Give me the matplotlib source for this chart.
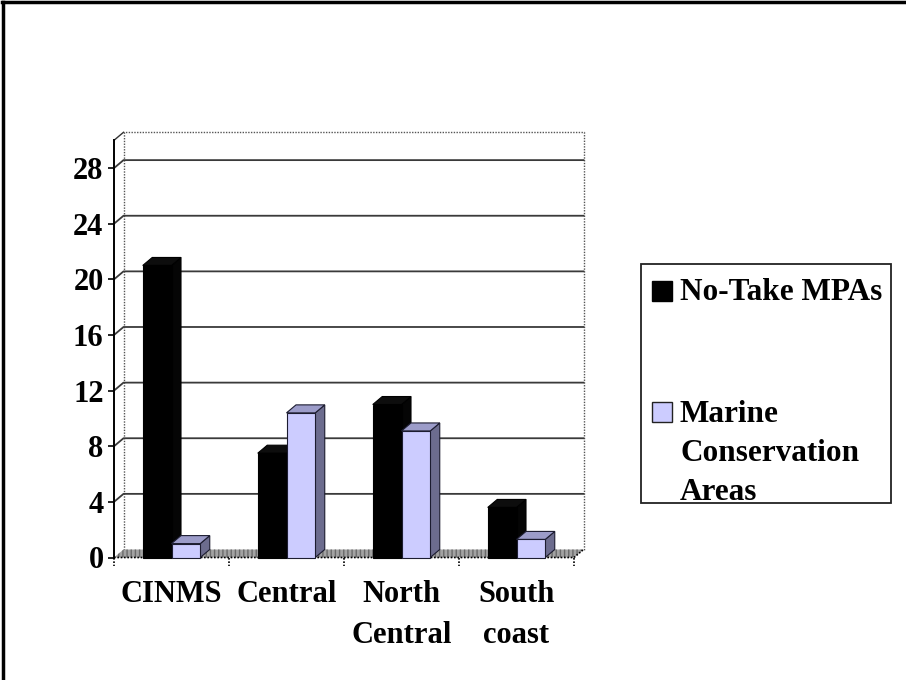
import matplotlib
matplotlib.use("Agg")
import matplotlib.pyplot as plt
from matplotlib.patches import Rectangle, Polygon

# ---- data ----
categories = ["CINMS", "Central", "North\nCentral", "South\ncoast"]
no_take = [21, 7.5, 11, 3.6]
conservation = [1.0, 10.4, 9.1, 1.3]
series_names = ["No-Take MPAs", "Marine\nConservation\nAreas"]
y_ticks = [0, 4, 8, 12, 16, 20, 24, 28]
y_max = 30

W, H = 906, 680
FONT = "Liberation Serif"

fig = plt.figure(figsize=(W / 100, H / 100), dpi=100)
fig.patch.set_facecolor("white")


def fx(px):
    return px / W


def fy(py):
    return 1 - py / H


# plot area (front plane)
ax_left, ax_right, ax_bottom, ax_top = 114, 574, 557.5, 140.3
ax = fig.add_axes([fx(ax_left), fy(ax_bottom), fx(ax_right - ax_left),
                   (ax_bottom - ax_top) / H])
ncat = len(categories)
ax.set_xlim(0, ncat)
ax.set_ylim(0, y_max)
ax.set_facecolor("none")

px_per_x = (ax_right - ax_left) / ncat
px_per_y = (ax_bottom - ax_top) / y_max
DX = 9.5 / px_per_x   # depth offset in x data units
DY = 8.0 / px_per_y   # depth offset in y data units

for s in ["top", "right", "bottom"]:
    ax.spines[s].set_visible(False)
ax.spines["left"].set_color("black")
ax.spines["left"].set_linewidth(1.4)

ax.set_yticks(y_ticks)
ax.set_yticklabels([str(v) for v in y_ticks], fontfamily=FONT,
                   fontweight="bold", fontsize=22)
ax.tick_params(axis="y", direction="out", length=4.5, width=1.2, pad=3,
               colors="black")

centers = [i + 0.5 for i in range(ncat)]
ax.set_xticks(centers)
ax.set_xticklabels(categories, fontfamily=FONT, fontweight="bold",
                   fontsize=22, linespacing=1.56)
ax.tick_params(axis="x", length=0, pad=16)

# back wall border (dotted)
ax.plot([DX, DX, ncat + DX, ncat + DX], [DY, y_max + DY, y_max + DY, DY],
        ls=(0, (1, 1)), color="#555555", lw=1.0, clip_on=False, zorder=1)
# top-left diagonal edge of the side wall
ax.plot([0, DX], [y_max, y_max + DY], color="#333333", lw=1.0,
        clip_on=False, zorder=1)

# gridlines on side wall and back wall
for v in y_ticks[1:]:
    ax.plot([0, DX, ncat + DX], [v, v + DY, v + DY], color="#3a3a3a",
            lw=1.3, clip_on=False, zorder=1)

# floor
floor = Polygon([(0, 0), (ncat, 0), (ncat + DX, DY), (DX, DY)], closed=True,
                facecolor="#a3a3a3", edgecolor="#6a6a6a", hatch="||||",
                lw=0, clip_on=False, zorder=2)
ax.add_patch(floor)
ax.plot([0, ncat, ncat + DX], [0, 0, DY], ls=(0, (1, 1)), color="black",
        lw=1.2, clip_on=False, zorder=3)
for i in range(ncat + 1):
    ax.plot([i, i], [0, -0.6], ls=(0, (1, 1)), color="black", lw=1.2,
            clip_on=False, zorder=3)


def bar3d(x0, width, value, front, top, side, edge):
    x1 = x0 + width
    ax.add_patch(Polygon([(x1, 0), (x1 + DX, DY), (x1 + DX, value + DY),
                          (x1, value)], closed=True, facecolor=side,
                         edgecolor=edge, lw=0.8, clip_on=False, zorder=4))
    ax.add_patch(Polygon([(x0, value), (x1, value), (x1 + DX, value + DY),
                          (x0 + DX, value + DY)], closed=True, facecolor=top,
                         edgecolor=edge, lw=0.8, clip_on=False, zorder=4))
    ax.add_patch(Rectangle((x0, 0), width, value, facecolor=front,
                           edgecolor=edge, lw=0.8, clip_on=False, zorder=4))


bw = 0.25
for i in range(ncat):
    bar3d(i + 0.5 - bw, bw, no_take[i], "#000000", "#0d0d0d", "#050505",
          "#000000")
    bar3d(i + 0.5, bw, conservation[i], "#ccccff", "#9c9cc9", "#6c6c8e",
          "#1c1c30")

# legend
fig.add_artist(Rectangle((fx(641), fy(503)), fx(891 - 641), (503 - 264) / H,
                         transform=fig.transFigure, fill=False,
                         edgecolor="#222222", lw=1.3))
fig.add_artist(Rectangle((fx(652), fy(301)), fx(20), 20 / H,
                         transform=fig.transFigure, facecolor="#000000",
                         edgecolor="#000000", lw=1.0))
fig.text(fx(680), fy(300), series_names[0], fontfamily=FONT,
         fontweight="bold", fontsize=22.5, va="baseline", ha="left")
fig.add_artist(Rectangle((fx(652), fy(422)), fx(20), 20 / H,
                         transform=fig.transFigure, facecolor="#ccccff",
                         edgecolor="#222222", lw=1.0))
for k, line in enumerate(series_names[1].split("\n")):
    fig.text(fx(680), fy(422 + 39 * k), line, fontfamily=FONT,
             fontweight="bold", fontsize=22.5, va="baseline", ha="left")

# outer frame (left and top edges)
fig.add_artist(plt.Line2D([fx(3), fx(3)], [0, fy(2)], color="black", lw=2.5,
                          transform=fig.transFigure))
fig.add_artist(plt.Line2D([fx(2), 1], [fy(2), fy(2)], color="black", lw=2.5,
                          transform=fig.transFigure))

fig.savefig("out.png", dpi=100, facecolor="white")
